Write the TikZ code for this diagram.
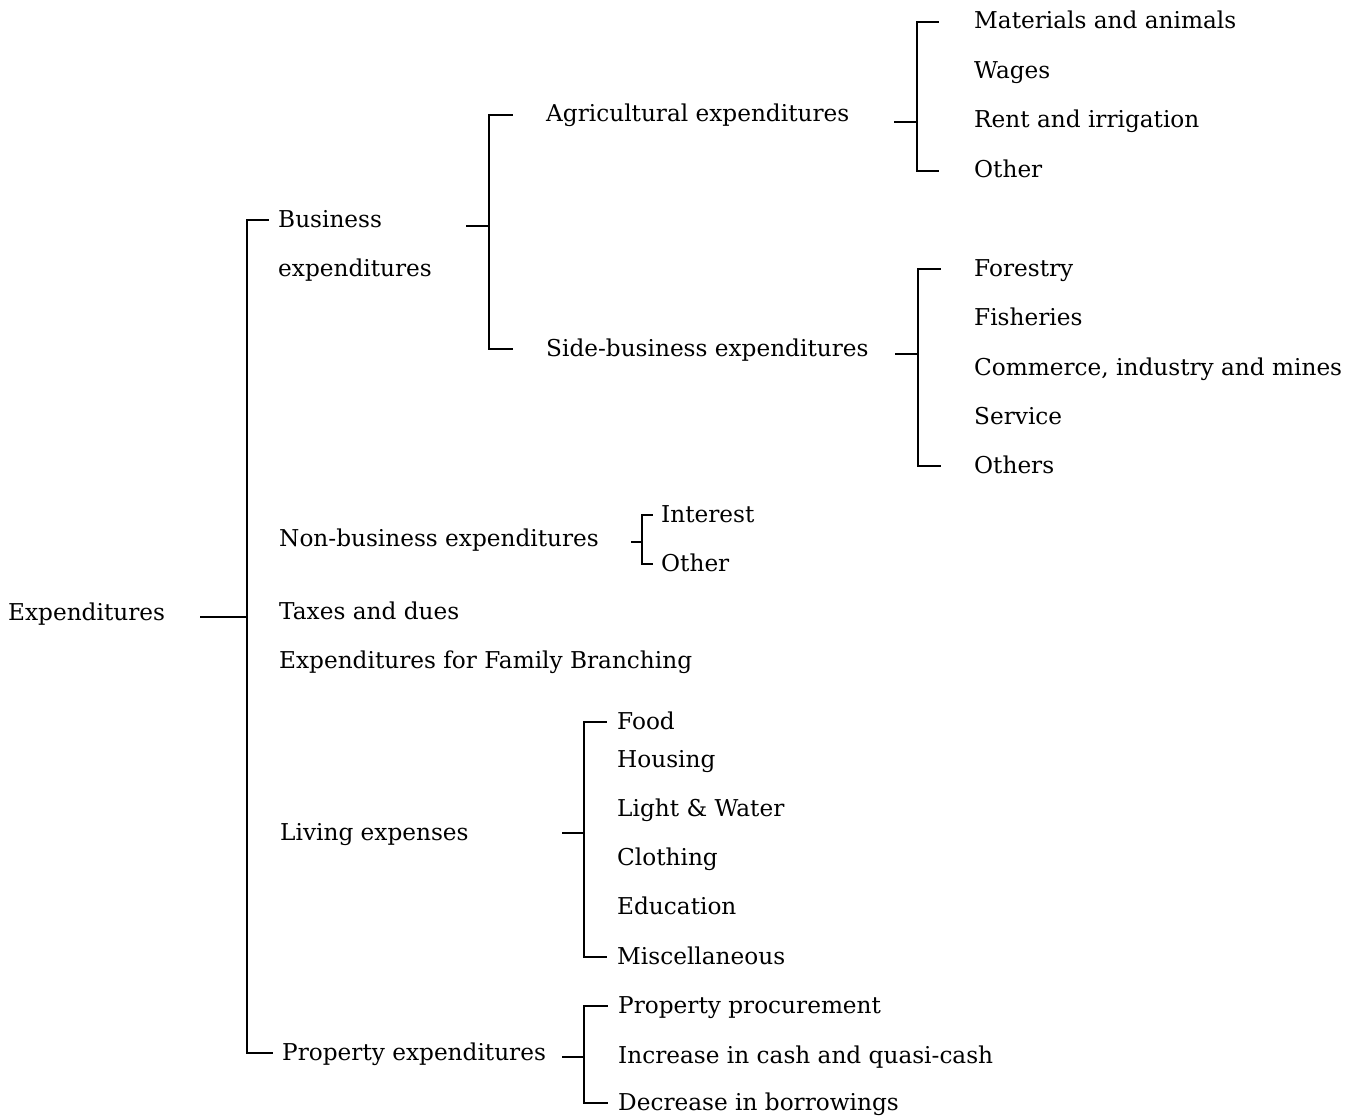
\documentclass[tikz,border=0pt]{standalone}
\usepackage{fontspec}
\setmainfont{DejaVu Serif}
\begin{document}
\begin{tikzpicture}[x=1pt,y=-1pt,
  lbl/.style={anchor=west,inner sep=0pt,font=\fontsize{23.2}{25}\selectfont,text height=1.6em,text depth=0.2em},
  br/.style={line width=1.4pt,line cap=rect}]
\useasboundingbox (0,0) rectangle (1356,1118);
% level 0
\node[lbl] (exp) at (8,613) {Expenditures};
% level 1
\node[lbl] (bus1) at (278,220) {Business};
\node[lbl] (bus2) at (278,269) {expenditures};
\node[lbl] (nonb) at (279,539) {Non-business expenditures};
\node[lbl] (tax) at (279,612) {Taxes and dues};
\node[lbl] (fam) at (279,661) {Expenditures for Family Branching};
\node[lbl] (liv) at (280,833) {Living expenses};
\node[lbl] (prop) at (282,1053) {Property expenditures};
% level 2
\node[lbl] (agr) at (546,115) {Agricultural expenditures};
\node[lbl] (side) at (546,349) {Side-business expenditures};
% level 3 agricultural
\node[lbl] (mat) at (974,22) {Materials and animals};
\node[lbl] (wag) at (974,72) {Wages};
\node[lbl] (rent) at (974,121) {Rent and irrigation};
\node[lbl] (aoth) at (974,171) {Other};
% side business
\node[lbl] (for) at (974,269) {Forestry};
\node[lbl] (fis) at (974,318) {Fisheries};
\node[lbl] (com) at (974,368) {Commerce, industry and mines};
\node[lbl] (ser) at (974,417) {Service};
\node[lbl] (soth) at (974,466) {Others};
% non-business
\node[lbl] (int) at (661,515) {Interest};
\node[lbl] (noth) at (661,564) {Other};
% living
\node[lbl] (food) at (617,722) {Food};
\node[lbl] (hous) at (617,760) {Housing};
\node[lbl] (light) at (617,809) {Light \& Water};
\node[lbl] (clo) at (617,858) {Clothing};
\node[lbl] (edu) at (617,907) {Education};
\node[lbl] (misc) at (617,957) {Miscellaneous};
% property
\node[lbl] (proc) at (618,1006) {Property procurement};
\node[lbl] (cash) at (618,1056) {Increase in cash and quasi-cash};
\node[lbl] (borr) at (618,1103) {Decrease in borrowings};

% spines
\coordinate (s0) at (247,617);
\coordinate (s1) at (489,226);
\coordinate (s2) at (917,122);
\coordinate (s3) at (918,354);
\coordinate (s4) at (642,542);
\coordinate (s5) at (584,833);
\coordinate (s6) at (584,1057);

% main
\draw[br] ([xshift=35pt]exp.east |- s0) -- (s0);
\draw[br] ([xshift=-10pt]bus1.west) -| (s0) |- ([xshift=-10pt]prop.west);
% business
\draw[br] ([xshift=-22pt]s1) -- (s1);
\draw[br] ([xshift=-34pt]agr.west) -| (s1) |- ([xshift=-34pt]side.west);
% agricultural
\draw[br] ([xshift=-22pt]s2) -- (s2);
\draw[br] ([xshift=-36pt]mat.west) -| (s2) |- ([xshift=-36pt]aoth.west);
% side business
\draw[br] ([xshift=-22pt]s3) -- (s3);
\draw[br] ([xshift=-34pt]for.west) -| (s3) |- ([xshift=-34pt]soth.west);
% non-business
\draw[br] ([xshift=-10pt]s4) -- (s4);
\draw[br] ([xshift=-9pt]int.west) -| (s4) |- ([xshift=-9pt]noth.west);
% living
\draw[br] ([xshift=-21pt]s5) -- (s5);
\draw[br] ([xshift=-11pt]food.west) -| (s5) |- ([xshift=-11pt]misc.west);
% property
\draw[br] ([xshift=-21pt]s6) -- (s6);
\draw[br] ([xshift=-11pt]proc.west) -| (s6) |- ([xshift=-11pt]borr.west);
\end{tikzpicture}
\end{document}
